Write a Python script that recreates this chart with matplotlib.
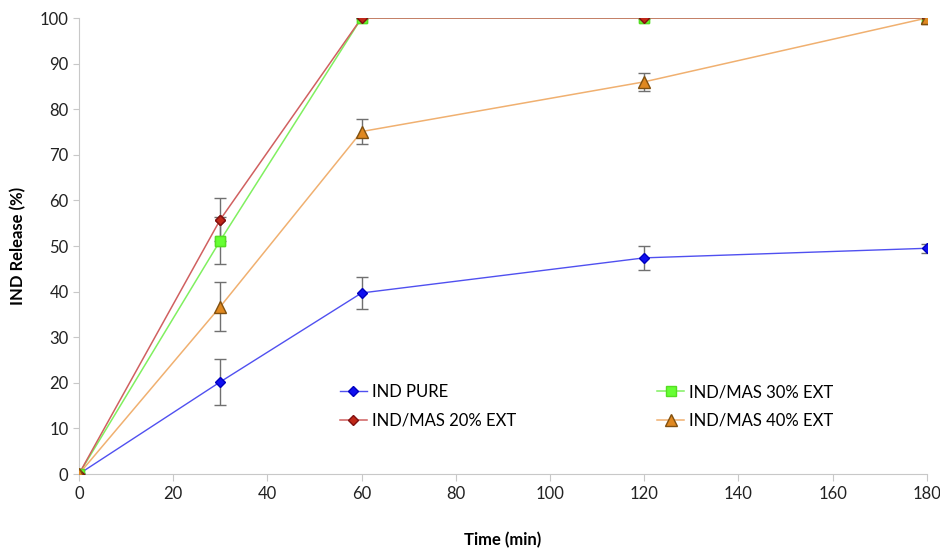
import matplotlib
matplotlib.use("Agg")
import matplotlib.pyplot as plt
from matplotlib.lines import Line2D

plt.rcParams['font.family'] = ['Lato', 'DejaVu Sans']

# dati
tempo = [0, 30, 60, 120, 180]
ind_pure = [0, 20.2, 39.7, 47.4, 49.5]
ind_pure_err = [0, 5.0, 3.5, 2.6, 1.0]
mas20 = [0, 55.8, 100, 100, 100]
mas20_err = [0, 4.7, 0, 0, 0]
mas30 = [0, 51.2, 100, 100, 100]
mas30_err = [0, 5.2, 0, 0, 0]
mas40 = [0, 36.7, 75.1, 86.0, 100]
mas40_err = [0, 5.3, 2.8, 2.0, 0]

fig = plt.figure(figsize=(9.4, 5.54), dpi=100)
ax = fig.add_axes([0.084, 0.1444, 0.902, 0.8231])

# stili delle serie
st20 = dict(color='#d06060', lw=1.1, marker='D', ms=5, mfc='#c02818', mec='#801010')
st30 = dict(color='#80f060', lw=1.1, marker='s', ms=7, mfc='#66ff33', mec='#55dd22')
st40 = dict(color='#f0b070', lw=1.1, marker='^', ms=8, mfc='#e08820', mec='#805010')
stpu = dict(color='#5050f0', lw=1.0, marker='D', ms=5, mfc='#1010f0', mec='#0000c0')

ekw = dict(ecolor='#707070', elinewidth=1, capsize=4, capthick=1)
ax.errorbar(tempo, mas30, yerr=mas30_err, zorder=2, **st30, **ekw)
ax.errorbar(tempo, mas20, yerr=mas20_err, zorder=3, **st20, **ekw)
ax.errorbar(tempo, mas40, yerr=mas40_err, zorder=4, **st40, **ekw)
ax.errorbar(tempo, ind_pure, yerr=ind_pure_err, zorder=5, **stpu, **ekw)

# marker sopra le linee, come nell'originale
ax.plot(tempo, mas30, ls='none', marker='s', ms=7, mfc='#66ff33', mec='#55dd22', zorder=5.5)
ax.plot(tempo, mas20, ls='none', marker='D', ms=5, mfc='#c02818', mec='#801010', zorder=5.6)
ax.plot(tempo[:1] + tempo[-1:], mas40[:1] + mas40[-1:], ls='none', marker='^', ms=8,
        mfc='#e08820', mec='#805010', zorder=5.7)

ax.set_xlim(0, 180)
ax.set_ylim(0, 100)
ax.set_xticks(range(0, 181, 20))
ax.set_yticks(range(0, 101, 10))
for s in ['top', 'right']:
    ax.spines[s].set_visible(False)
for s in ['left', 'bottom']:
    ax.spines[s].set_color('#c8c8c8')
ax.tick_params(axis='both', colors='#c8c8c8', labelcolor='#222222', labelsize=12, length=5)
ax.tick_params(axis='y', length=4)

ax.set_xlabel('Time (min)', fontsize=12, fontweight='bold', labelpad=22)
ax.set_ylabel('IND Release (%)', fontsize=12, fontweight='bold', labelpad=10)

handles = [Line2D([], [], **stpu), Line2D([], [], **st20),
           Line2D([], [], **st30), Line2D([], [], **st40)]
labels = ['IND PURE', 'IND/MAS 20% EXT', 'IND/MAS 30% EXT', 'IND/MAS 40% EXT']
ax.legend(handles, labels, ncol=2, frameon=False,
          fontsize=12, loc='upper left', bbox_to_anchor=(0.29, 0.23),
          columnspacing=8.5, handlelength=1.6, handletextpad=0.3, labelspacing=0.75)

plt.savefig('out.png', dpi=100)
